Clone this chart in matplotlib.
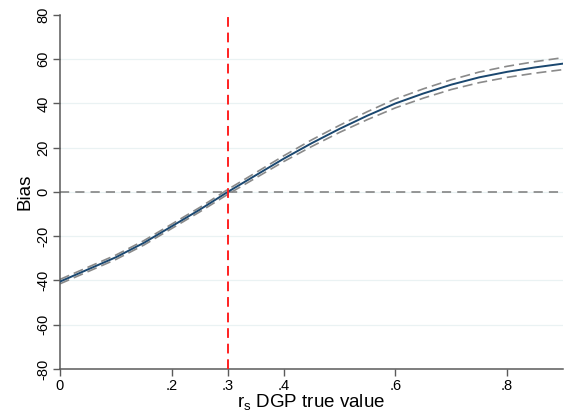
import matplotlib as mpl

mpl.use("Agg")
import matplotlib.pyplot as plt

# estimated bias curve with confidence band
r_true = [0.0, 0.05, 0.1, 0.15, 0.2, 0.25, 0.3, 0.35, 0.4, 0.45,
          0.5, 0.55, 0.6, 0.65, 0.7, 0.75, 0.8, 0.85, 0.9]
bias = [-40.5, -35.0, -29.5, -23.0, -15.5, -8.0, 0.0, 7.5, 15.0, 22.0,
        28.5, 34.5, 40.0, 44.5, 48.5, 51.8, 54.3, 56.3, 58.0]
band = [1.0, 1.0, 1.0, 1.0, 1.0, 1.0, 1.1, 1.2, 1.3, 1.5,
        1.6, 1.8, 2.0, 2.1, 2.2, 2.4, 2.5, 2.6, 2.7]
lower = [b - w for b, w in zip(bias, band)]
upper = [b + w for b, w in zip(bias, band)]

x_ticks = [0, 0.2, 0.3, 0.4, 0.6, 0.8]
x_labels = ["0", ".2", ".3", ".4", ".6", ".8"]
y_ticks = [-80, -60, -40, -20, 0, 20, 40, 60, 80]
true_value = 0.3

plt.rcParams["font.family"] = ["Liberation Sans", "DejaVu Sans"]
plt.rcParams["mathtext.fontset"] = "custom"
plt.rcParams["mathtext.rm"] = "Liberation Sans"

fig = plt.figure(figsize=(5.69, 4.19), dpi=100)
ax = fig.add_axes([0.1054, 0.1193, 0.884, 0.845])

axis_col = "#5a5a5a"
for y in y_ticks[1:-1]:
    ax.axhline(y, color="#eaf2f3", lw=0.9, zorder=0)

ax.plot([0, 0.9], [0, 0], color="#7a7a7a", lw=1.1, ls=(0, (6, 4)), zorder=1)
ax.plot(r_true, upper, color="#8a8a8a", lw=1.2, ls=(0, (6, 3)), zorder=2)
ax.plot(r_true, lower, color="#8a8a8a", lw=1.2, ls=(0, (6, 3)), zorder=2)
ax.plot(r_true, bias, color="#1a476f", lw=1.4, zorder=3)
ax.axvline(true_value, color="#ff2020", lw=1.4, ls=(0, (5, 3)), zorder=4)

ax.set_xlim(0, 0.9)
ax.set_ylim(-80, 80)
ax.set_xticks(x_ticks)
ax.set_xticklabels(x_labels)
ax.set_yticks(y_ticks)
ax.set_yticklabels([str(v) for v in y_ticks], rotation=90, va="center")

for side in ("top", "right"):
    ax.spines[side].set_visible(False)
for side in ("left", "bottom"):
    ax.spines[side].set_color(axis_col)
    ax.spines[side].set_linewidth(1.1)
ax.tick_params(axis="both", colors="black", labelsize=10.5, length=5, width=1.0,
               color=axis_col, pad=2)

ax.set_ylabel("Bias", fontsize=13.5, labelpad=2)
ax.set_xlabel(r"r$_\mathrm{s}$ DGP true value", fontsize=13.5, labelpad=0)

fig.savefig("out.png", dpi=100)
plt.close(fig)
